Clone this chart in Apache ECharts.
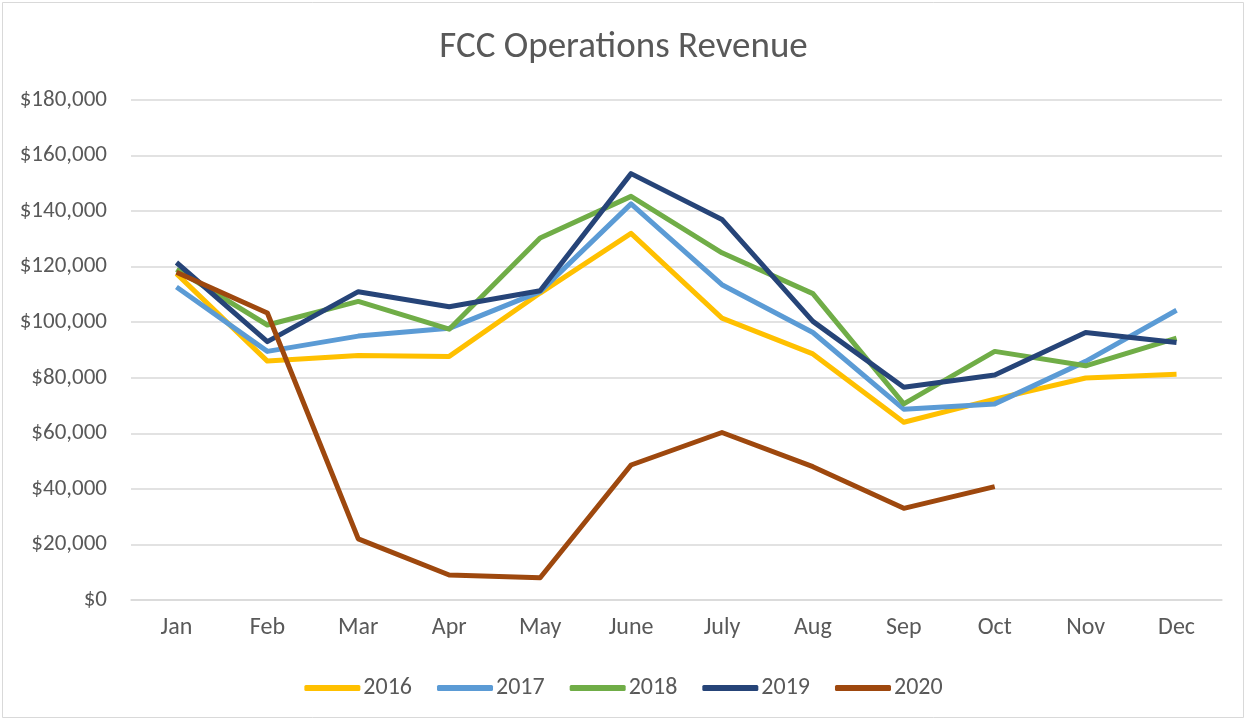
<!DOCTYPE html>
<html>
<head>
<meta charset="utf-8">
<script src="https://cdn.jsdelivr.net/npm/echarts@6/dist/echarts.min.js"></script>
<style>
  html, body { margin: 0; padding: 0; background: #fff; }
  #main { width: 1247px; height: 721px; }
</style>
</head>
<body>
<div id="main"></div>
<script>
var months = ['Jan', 'Feb', 'Mar', 'Apr', 'May', 'June', 'July', 'Aug', 'Sep', 'Oct', 'Nov', 'Dec'];
var years = ['2016', '2017', '2018', '2019', '2020'];
var rev2016 = [117500, 86000, 88000, 87700, 110500, 132000, 101500, 88600, 64000, 72300, 79900, 81300];
var rev2017 = [112700, 89500, 95000, 97800, 111000, 142600, 113500, 96300, 68700, 70600, 85900, 104300];
var rev2018 = [119000, 99000, 107500, 97500, 130300, 145300, 125000, 110300, 70600, 89500, 84300, 94300];
var rev2019 = [121500, 93000, 111000, 105600, 111300, 153500, 137000, 100300, 76600, 81000, 96300, 92700];
var rev2020 = [118000, 103300, 22000, 9000, 8000, 48600, 60300, 48000, 33000, 40800, null, null];
var colors = ['#FFC000', '#5B9BD5', '#70AD47', '#264478', '#9E480E'];
var yTicks = { min: 0, max: 180000, interval: 20000 };

var fontName = 'Carlito, "Liberation Sans Narrow", "Open Sans", sans-serif';
var allData = [rev2016, rev2017, rev2018, rev2019, rev2020];

var chart = echarts.init(document.getElementById('main'));
chart.setOption({
  backgroundColor: '#fff',
  animation: false,
  graphic: [{
    type: 'rect',
    shape: { x: 2.5, y: 2.5, width: 1241, height: 715 },
    style: { fill: 'none', stroke: '#d9d9d9', lineWidth: 1 },
    silent: true
  }],
  title: {
    text: 'FCC Operations Revenue',
    left: 'center',
    top: 24,
    textStyle: { fontFamily: fontName, fontSize: 37, fontWeight: 'normal', color: '#595959' }
  },
  legend: {
    bottom: 16,
    left: 'center',
    itemWidth: 56,
    itemHeight: 6,
    itemGap: 25,
    icon: 'roundRect',
    data: years,
    textStyle: { fontFamily: fontName, fontSize: 24, color: '#595959', padding: [0, 0, 0, -2] }
  },
  grid: { left: 131, right: 25, top: 100, bottom: 121 },
  xAxis: {
    type: 'category',
    data: months,
    boundaryGap: true,
    axisLine: { lineStyle: { color: '#d9d9d9', width: 1.5 } },
    axisTick: { show: false },
    axisLabel: { fontFamily: fontName, fontSize: 24, color: '#595959', margin: 16 }
  },
  yAxis: {
    type: 'value',
    min: yTicks.min,
    max: yTicks.max,
    interval: yTicks.interval,
    axisLine: { show: false },
    axisTick: { show: false },
    splitLine: { lineStyle: { color: '#d9d9d9', width: 1.5 } },
    axisLabel: {
      fontFamily: fontName, fontSize: 23, color: '#595959', margin: 24,
      formatter: function (v) { return '$' + v.toLocaleString('en-US'); }
    }
  },
  series: years.map(function (y, i) {
    return {
      name: y,
      type: 'line',
      data: allData[i],
      color: colors[i],
      showSymbol: false,
      symbol: 'none',
      lineStyle: { width: 5, color: colors[i], join: 'round' },
      connectNulls: false
    };
  })
});
</script>
</body>
</html>
